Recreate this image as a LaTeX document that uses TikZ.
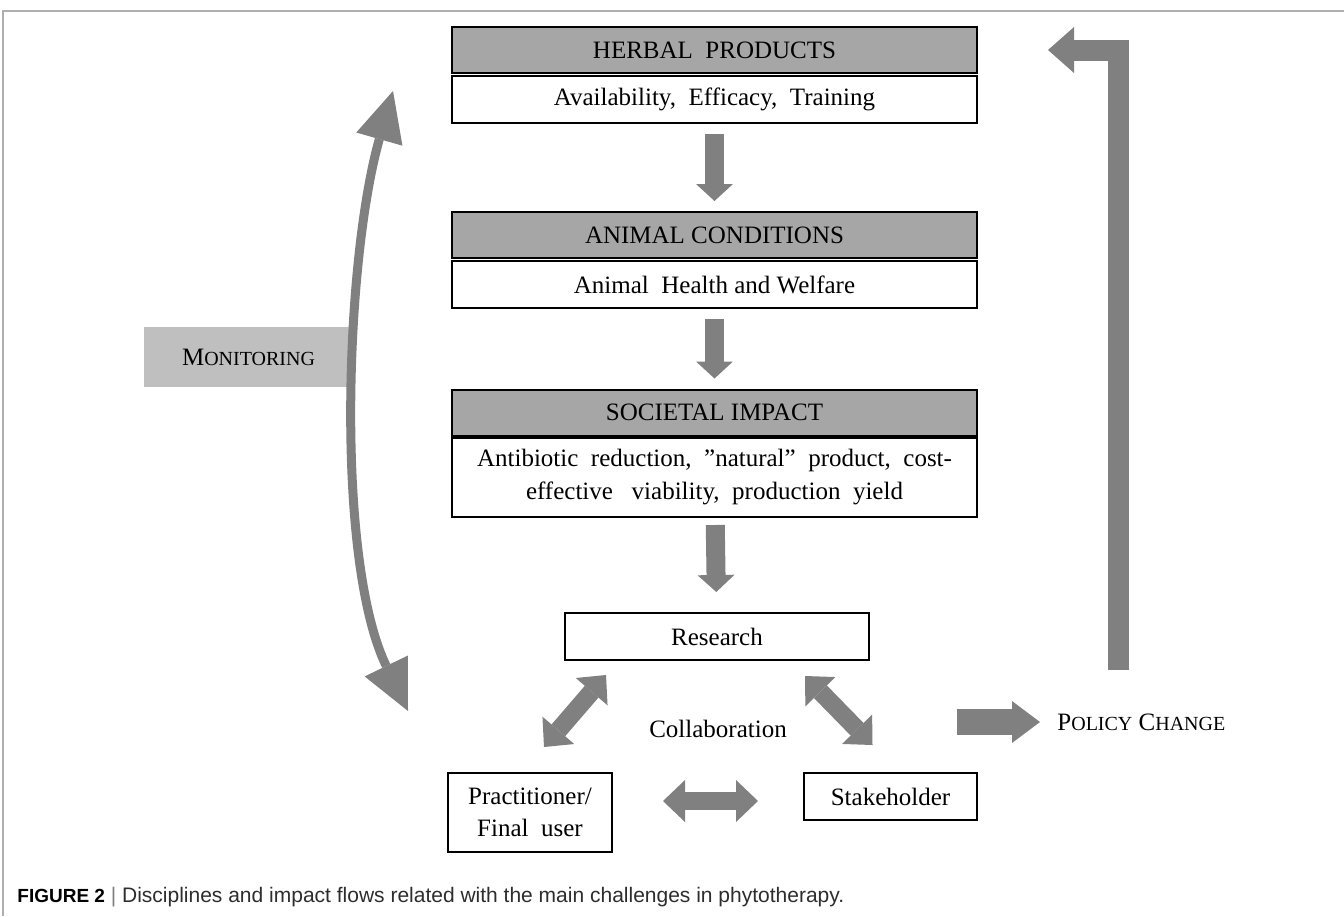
\documentclass[tikz,border=0pt]{standalone}
\usepackage{fontspec}
\setmainfont{Liberation Serif}
\newfontfamily\captionfont{Liberation Sans}
\usetikzlibrary{arrows.meta}
\definecolor{arrowgray}{RGB}{128,128,128}
\definecolor{headgray}{RGB}{166,166,166}
\definecolor{mongray}{RGB}{191,191,191}
\definecolor{framegray}{RGB}{175,175,175}
\definecolor{captiongray}{RGB}{45,45,45}
\newcommand{\fakesc}[2]{#1{\fontsize{10}{12}\selectfont #2}}
\tikzset{
	boxtext/.style={font=\fontsize{12.5}{16}\selectfont},
	headbox/.style={boxtext, draw, line width=1pt, fill=headgray, minimum width=262.5pt, minimum height=23pt, inner sep=0pt},
	descbox/.style={boxtext, draw, line width=1pt, fill=white, minimum width=262.5pt, minimum height=23.5pt, inner sep=0pt, align=center},
	smallbox/.style={boxtext, draw, line width=1pt, minimum height=23.5pt, inner sep=0pt, align=center},
	monbox/.style={boxtext, fill=mongray, minimum width=104.5pt, minimum height=30pt, inner sep=0pt},
	plain/.style={boxtext, inner sep=0pt},
	flow/.style={draw=arrowgray, line width=9.5pt, -{Triangle[length=8.5pt, width=18.5pt, line width=0pt]}, shorten <=5pt, shorten >=5pt},
	twoway/.style={draw=arrowgray, line width=9pt, {Triangle[length=11pt, width=21pt, line width=0pt]}-{Triangle[length=11pt, width=21pt, line width=0pt]}},
	monarrow/.style={draw=arrowgray, line width=4.5pt, {Triangle[length=25pt, width=24pt, line width=0pt]}-{Triangle[length=25pt, width=24pt, line width=0pt]}}
}
\begin{document}
\begin{tikzpicture}[x=0.5pt,y=-0.5pt]
	\useasboundingbox (0,0) rectangle (1344,916);
	\draw[framegray, line width=1pt] (3,916) -- (3,11) -- (1344,11);
	
	% central column
	\node[headbox] (herbal) at (714.5,50) {HERBAL\ \ PRODUCTS};
	\node[descbox] (herbdesc) at (714.5,99.5) {Availability,\ \ Efficacy,\ \ Training};
	\node[headbox] (animal) at (714.5,235) {ANIMAL CONDITIONS};
	\node[descbox] (animaldesc) at (714.5,284.5) {Animal\ \ Health and Welfare};
	\node[headbox] (societal) at (714.5,412.5) {SOCIETAL IMPACT};
	\node[descbox, minimum height=39.5pt, font=\fontsize{12.5}{16.5}\selectfont] (societaldesc) at (714.5,477.5) {Antibiotic\ \ reduction,\ \ ”natural”\ \ product,\ \ cost-\\effective\ \ \ viability,\ \ production\ \ yield};
	
	% collaboration triangle
	\node[smallbox, minimum width=152pt] (research) at (717,636.5) {Research};
	\node[smallbox, minimum width=82pt, minimum height=39.5pt] (practitioner) at (530,812.5) {Practitioner/\\Final\ \ user};
	\node[smallbox, minimum width=86.5pt] (stakeholder) at (890.5,796.5) {Stakeholder};
	\node[plain] (collab) at (718,729) {Collaboration};
	
	\node[monbox] (monitoring) at (248.5,357) {\fakesc{M}{ONITORING}};
	\node[plain, anchor=west] (policy) at (1057,722) {\fakesc{P}{OLICY} \fakesc{C}{HANGE}};
	\node[anchor=west, inner sep=0pt, text=captiongray, font=\captionfont\fontsize{10.5}{12}\selectfont] (caption) at (17,897) {{\color{black}\fontsize{9.5}{12}\selectfont\textbf{FIGURE 2}} {\color{arrowgray}|} Disciplines and impact flows related with the main challenges in phytotherapy.};
	
	\coordinate (montop) at (393,91);
	\coordinate (monbot) at (408,711);
	\coordinate (polstart) at (957,722);
	\coordinate (polup) at (1118.5,670);
	
	% arrows
	\draw[flow] (herbdesc) -- (animal);
	\draw[flow] (animaldesc) -- (societal);
	\draw[flow, shorten <=3.5pt, shorten >=10pt] (societaldesc) -- (research);
	\draw[twoway] ([xshift=7pt,yshift=12.5pt]practitioner.north) -- ([xshift=21pt,yshift=-7pt]research.south west);
	\draw[twoway] ([xshift=-32.5pt,yshift=-7.5pt]research.south east) -- ([xshift=-9pt,yshift=13.5pt]stakeholder.north);
	\draw[twoway] ([xshift=25pt,yshift=5.75pt]practitioner.east) -- ([xshift=-22.5pt,yshift=-2.25pt]stakeholder.west);
	\draw[monarrow] (montop) .. controls (345,260) and (335,560) .. (monbot);
	\draw[draw=arrowgray, line width=13pt, -{Triangle[length=14pt, width=21pt, line width=0pt]}] (polstart) -- ([xshift=-8.5pt]policy.west);
	\draw[draw=arrowgray, line width=10.5pt, line join=miter, -{Triangle[length=13pt, width=23pt, line width=0pt]}] (polup) |- ([xshift=35pt]herbal.east);
	
\end{tikzpicture}
\end{document}
